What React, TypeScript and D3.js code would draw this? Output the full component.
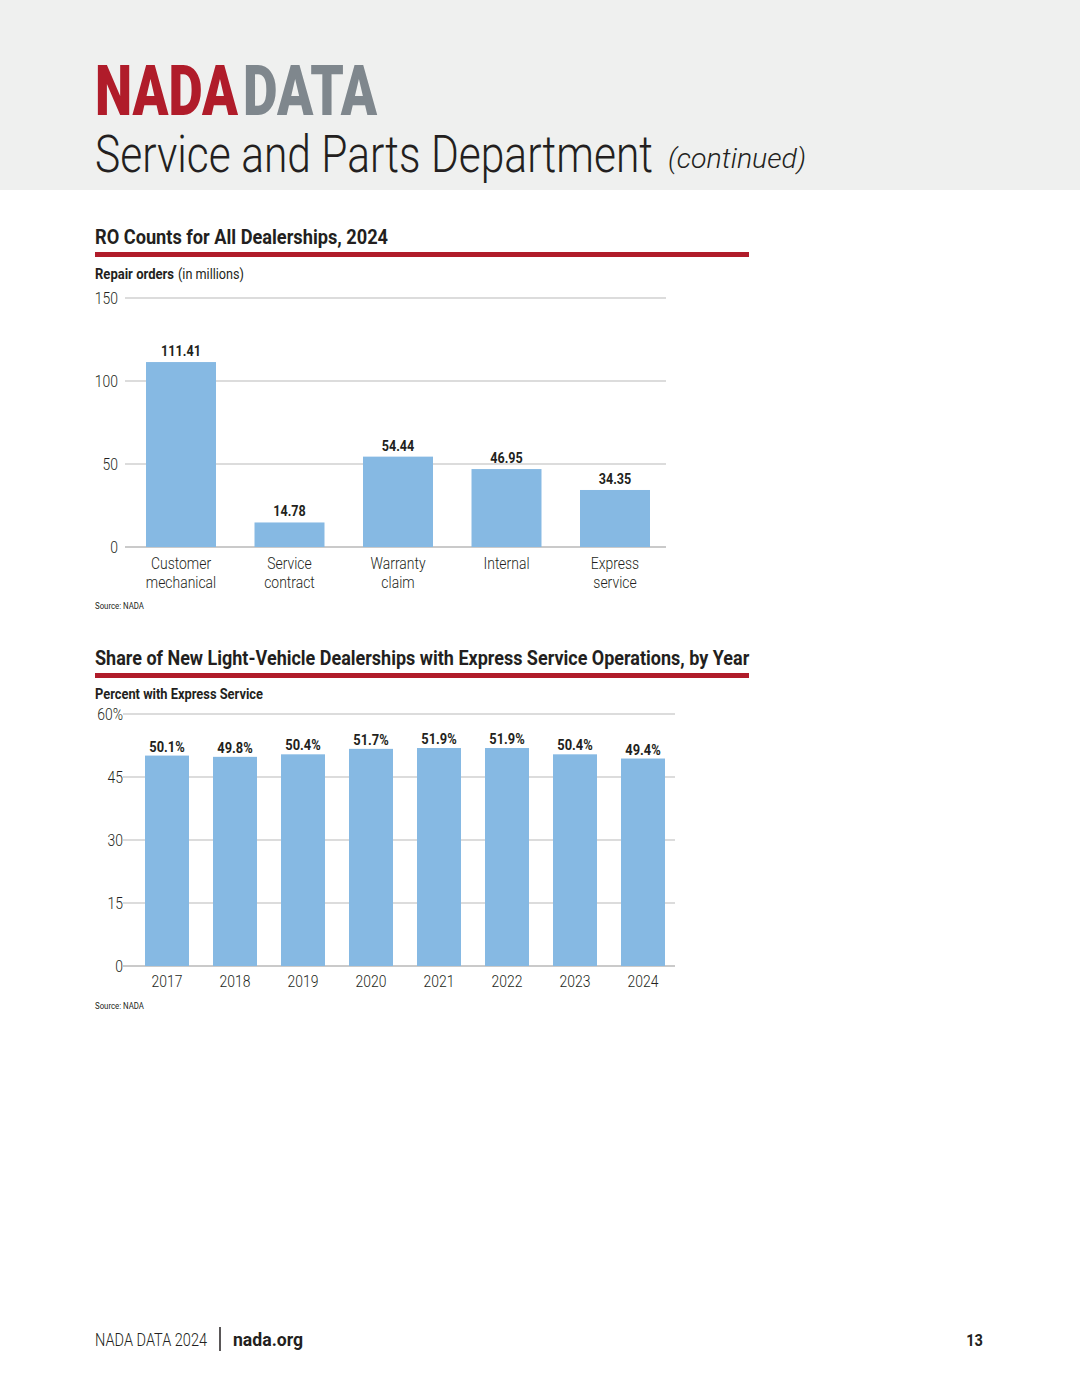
import React, { useLayoutEffect, useRef, useState } from "react";
import * as d3 from "d3";

const roCategories = [["Customer", "mechanical"], ["Service", "contract"], ["Warranty", "claim"], ["Internal"], ["Express", "service"]];
const roValues = [111.41, 14.78, 54.44, 46.95, 34.35];
const roTicks = [0, 50, 100, 150];

const years = ["2017", "2018", "2019", "2020", "2021", "2022", "2023", "2024"];
const expressShare = [50.1, 49.8, 50.4, 51.7, 51.9, 51.9, 50.4, 49.4];
const shareTicks = [0, 15, 30, 45, 60];

const FONT = "Roboto, 'Noto Sans', sans-serif";
const BLUE = "#86b9e3";
const RED = "#b01c2a";
const INK = "#231f20";
const GRID = "#b9b9b9";

type CTProps = {
  x: number;
  y: number;
  s?: number;
  size: number;
  weight?: number;
  anchor?: "start" | "middle" | "end";
  fill?: string;
  italic?: boolean;
  children: React.ReactNode;
};

// Condensed text: Roboto squeezed horizontally to mimic the reference's condensed face
function CT({ x, y, s = 0.82, size, weight = 300, anchor = "start", fill = INK, italic = false, children }: CTProps) {
  return (
    <text
      transform={`translate(${x},${y}) scale(${s},1)`}
      textAnchor={anchor}
      fontFamily={FONT}
      fontSize={size}
      fontWeight={weight}
      fontStyle={italic ? "italic" : "normal"}
      fill={fill}
    >
      {children}
    </text>
  );
}

// Text squeezed to a measured target width
function FitText(props: Omit<CTProps, "s"> & { w: number }) {
  const ref = useRef<SVGTextElement>(null);
  const [s, setS] = useState(0.82);
  useLayoutEffect(() => {
    if (ref.current) {
      const len = ref.current.getComputedTextLength();
      if (len > 0) setS(props.w / len);
    }
  }, [props.w, props.size]);
  const { x, y, size, weight = 300, anchor = "start", fill = INK, italic = false, children } = props;
  return (
    <text
      ref={ref}
      transform={`translate(${x},${y}) scale(${s},1)`}
      textAnchor={anchor}
      fontFamily={FONT}
      fontSize={size}
      fontWeight={weight}
      fontStyle={italic ? "italic" : "normal"}
      fill={fill}
    >
      {children}
    </text>
  );
}

export default function App() {
  const y1 = d3.scaleLinear().domain([0, 150]).range([547, 298]);
  const x1 = d3.scaleBand<number>().domain(d3.range(roValues.length)).range([126.75, 669.25]).paddingInner(0.355).paddingOuter(0.1775);
  const y2 = d3.scaleLinear().domain([0, 60]).range([966, 714]);
  const x2 = d3.scaleBand<string>().domain(years).range([133, 677]).paddingInner(0.353).paddingOuter(0.1765);

  return (
    <svg width={1080} height={1397} style={{ position: "absolute", left: 0, top: 0, background: "#fff" }}>
      <rect x={0} y={0} width={1080} height={190} fill="#eff0ef" />
      <FitText x={95} y={115} w={143} size={70} weight={900} fill={RED}>NADA</FitText>
      <FitText x={243} y={115} w={134} size={70} weight={900} fill="#7f878d">DATA</FitText>
      <FitText x={95} y={172} w={558} size={51} weight={300}>Service and Parts Department</FitText>
      <FitText x={668} y={168} w={138} size={28} weight={300} italic>(continued)</FitText>

      {/* Chart 1 */}
      <FitText x={95} y={244} w={293} size={21} weight={700}>RO Counts for All Dealerships, 2024</FitText>
      <rect x={95} y={252} width={654} height={5} fill={RED} />
      <FitText x={95} y={279} w={79} size={14} weight={700}>Repair orders</FitText>
      <FitText x={178} y={279} w={66} size={14} weight={400}>(in millions)</FitText>
      {roTicks.map((t) => (
        <g key={t}>
          <line x1={125} x2={666} y1={y1(t)} y2={y1(t)} stroke={GRID} strokeWidth={t === 0 ? 1.5 : 1} />
          <CT x={118} y={y1(t) + 6} size={17} anchor="end">{t}</CT>
        </g>
      ))}
      {roValues.map((v, i) => {
        const cx = x1(i)! + x1.bandwidth() / 2;
        return (
          <g key={i}>
            <rect x={x1(i)} y={y1(v)} width={x1.bandwidth()} height={y1(0) - y1(v)} fill={BLUE} />
            <CT x={cx} y={y1(v) - 6} size={15} weight={700} s={0.84} anchor="middle">{v.toFixed(2)}</CT>
            {roCategories[i].map((line, j) => (
              <CT key={j} x={cx} y={569 + j * 19} size={17} anchor="middle">{line}</CT>
            ))}
          </g>
        );
      })}
      <FitText x={95} y={609} w={49} size={9} weight={400}>Source: NADA</FitText>

      {/* Chart 2 */}
      <FitText x={95} y={665} w={654} size={21} weight={700}>Share of New Light-Vehicle Dealerships with Express Service Operations, by Year</FitText>
      <rect x={95} y={673} width={654} height={5} fill={RED} />
      <FitText x={95} y={699} w={168} size={14} weight={700}>Percent with Express Service</FitText>
      {shareTicks.map((t) => (
        <g key={t}>
          <line x1={123} x2={675} y1={y2(t)} y2={y2(t)} stroke={GRID} strokeWidth={t === 0 ? 1.5 : 1} />
          <CT x={123} y={y2(t) + 6} size={17} anchor="end">{t === 60 ? "60%" : String(t)}</CT>
        </g>
      ))}
      {expressShare.map((v, i) => {
        const cx = x2(years[i])! + x2.bandwidth() / 2;
        return (
          <g key={years[i]}>
            <rect x={x2(years[i])} y={y2(v)} width={x2.bandwidth()} height={y2(0) - y2(v)} fill={BLUE} />
            <CT x={cx} y={y2(v) - 4} size={15} weight={700} s={0.86} anchor="middle">{v.toFixed(1)}%</CT>
            <CT x={cx} y={987} size={17} anchor="middle">{years[i]}</CT>
          </g>
        );
      })}
      <FitText x={95} y={1009} w={49} size={9} weight={400}>Source: NADA</FitText>

      {/* Footer */}
      <FitText x={95} y={1346} w={112} size={19} weight={300}>NADA DATA 2024</FitText>
      <line x1={220} x2={220} y1={1327} y2={1351} stroke={INK} strokeWidth={1.5} />
      <FitText x={233} y={1346} w={70} size={19} weight={700}>nada.org</FitText>
      <CT x={983} y={1346} size={17} weight={700} s={0.86} anchor="end">13</CT>
    </svg>
  );
}
